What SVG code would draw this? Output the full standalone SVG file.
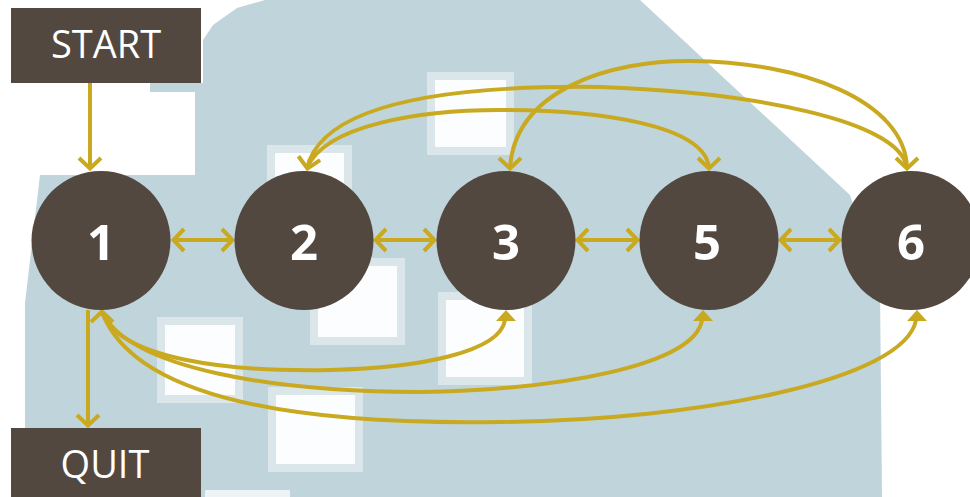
<svg xmlns="http://www.w3.org/2000/svg" xmlns:xlink="http://www.w3.org/1999/xlink" width="970" height="497" viewBox="0 0 970 497">
  <style>
    .box { fill: #52483f; }
    .node { fill: #52483f; }
    .lbl { font-family: "Open Sans", "Liberation Sans", sans-serif; fill: #ffffff; text-anchor: middle; }
    .box-lbl { font-size: 38px; font-weight: 400; }
    .num { font-size: 49px; font-weight: 700; }
    .edge { fill: none; stroke: #c9a91f; stroke-width: 4; }
    .tri { fill: #c9a91f; }
    .bg { fill: #c0d4db; }
    .hole { fill: #fbfdfe; stroke: #dbe6ea; stroke-width: 8; }
  </style>
  <defs>
    <path id="chev" d="M -11 -13 L 0 -2.5 L 11 -13" fill="none" stroke="#c9a91f" stroke-width="4"/>
    <polygon id="tri" points="0,0 -10,11 10,11" fill="#c9a91f"/>
  </defs>

  <rect width="970" height="497" fill="#ffffff"/>
  <g id="background">
    <path class="bg" d="M 203 83 L 203 40 L 213 25 L 237 8 L 265 0 L 640 0 L 850 195 L 880 290 L 882 497 L 25 497 L 25 303 L 40 175 L 195 175 L 195 92 L 150 92 L 150 83 Z"/>
    <rect class="hole" x="431" y="76" width="79" height="75"/>
    <rect class="hole" x="271" y="149" width="77" height="40"/>
    <rect class="hole" x="161" y="321" width="78" height="78"/>
    <rect class="hole" x="314" y="262" width="87" height="79"/>
    <rect class="hole" x="272" y="391" width="87" height="77"/>
    <rect class="hole" x="442" y="296" width="86" height="85"/>
    <rect x="205" y="490" width="85" height="7" fill="#eef4f6"/>
  </g>

  <g id="connectors">
    <!-- START -> 1 -->
    <path class="edge" d="M 90 83 L 90 169"/>
    <use xlink:href="#chev" transform="translate(90,171)"/>
    <!-- 1 -> QUIT -->
    <path class="edge" d="M 88 310 L 88 426"/>
    <use xlink:href="#chev" transform="translate(88,428)"/>

    <!-- horizontal double arrows -->
    <path class="edge" d="M 173 240 L 233 240"/>
    <use xlink:href="#chev" transform="translate(171,240) rotate(90)"/>
    <use xlink:href="#chev" transform="translate(235,240) rotate(-90)"/>

    <path class="edge" d="M 375 240 L 435 240"/>
    <use xlink:href="#chev" transform="translate(373,240) rotate(90)"/>
    <use xlink:href="#chev" transform="translate(437,240) rotate(-90)"/>

    <path class="edge" d="M 577 240 L 638 240"/>
    <use xlink:href="#chev" transform="translate(575,240) rotate(90)"/>
    <use xlink:href="#chev" transform="translate(640,240) rotate(-90)"/>

    <path class="edge" d="M 780 240 L 840 240"/>
    <use xlink:href="#chev" transform="translate(778,240) rotate(90)"/>
    <use xlink:href="#chev" transform="translate(842,240) rotate(-90)"/>

    <!-- top arcs -->
    <path class="edge" d="M 307 168 C 322 105, 440 85, 600 87 C 750 92, 900 120, 907 168"/>
    <path class="edge" d="M 307 168 C 325 125, 420 110, 500 110 C 600 110, 705 125, 709 168"/>
    <path class="edge" d="M 510 168 C 515 90, 610 60, 692 61 C 800 62, 905 100, 907 168"/>
    <use xlink:href="#chev" transform="translate(307,171) rotate(10)"/>
    <use xlink:href="#chev" transform="translate(709,171)"/>
    <use xlink:href="#chev" transform="translate(510,171)"/>
    <use xlink:href="#chev" transform="translate(907,171)"/>

    <!-- bottom arcs -->
    <path class="edge" d="M 102 312 C 120 360, 230 372, 330 370 C 420 368, 500 352, 505 320"/>
    <path class="edge" d="M 102 312 C 130 370, 280 392, 420 392 C 560 390, 695 365, 702 320"/>
    <path class="edge" d="M 102 312 C 135 400, 300 425, 500 422 C 700 420, 905 380, 916 320"/>
    <use xlink:href="#chev" transform="translate(102,309) rotate(180)"/>
    <use xlink:href="#tri" transform="translate(506,310)"/>
    <use xlink:href="#tri" transform="translate(703,310)"/>
    <use xlink:href="#tri" transform="translate(917,310)"/>
  </g>

  <g id="start">
    <rect class="box" x="11" y="8" width="190" height="75"/>
    <text class="lbl box-lbl" x="106" y="58">START</text>
  </g>
  <g id="quit">
    <rect class="box" x="11" y="428" width="190" height="69"/>
    <text class="lbl box-lbl" x="105" y="478">QUIT</text>
  </g>
  <g id="node1">
    <circle class="node" cx="101" cy="240.5" r="69.5"/>
    <text class="lbl num" x="101" y="260">1</text>
  </g>
  <g id="node2">
    <circle class="node" cx="304" cy="240.5" r="69.5"/>
    <text class="lbl num" x="304" y="260">2</text>
  </g>
  <g id="node3">
    <circle class="node" cx="506" cy="240.5" r="69.5"/>
    <text class="lbl num" x="506" y="260">3</text>
  </g>
  <g id="node5">
    <circle class="node" cx="709" cy="240.5" r="69.5"/>
    <text class="lbl num" x="707" y="260">5</text>
  </g>
  <g id="node6">
    <circle class="node" cx="911" cy="240.5" r="69.5"/>
    <text class="lbl num" x="911" y="260">6</text>
  </g>
</svg>
